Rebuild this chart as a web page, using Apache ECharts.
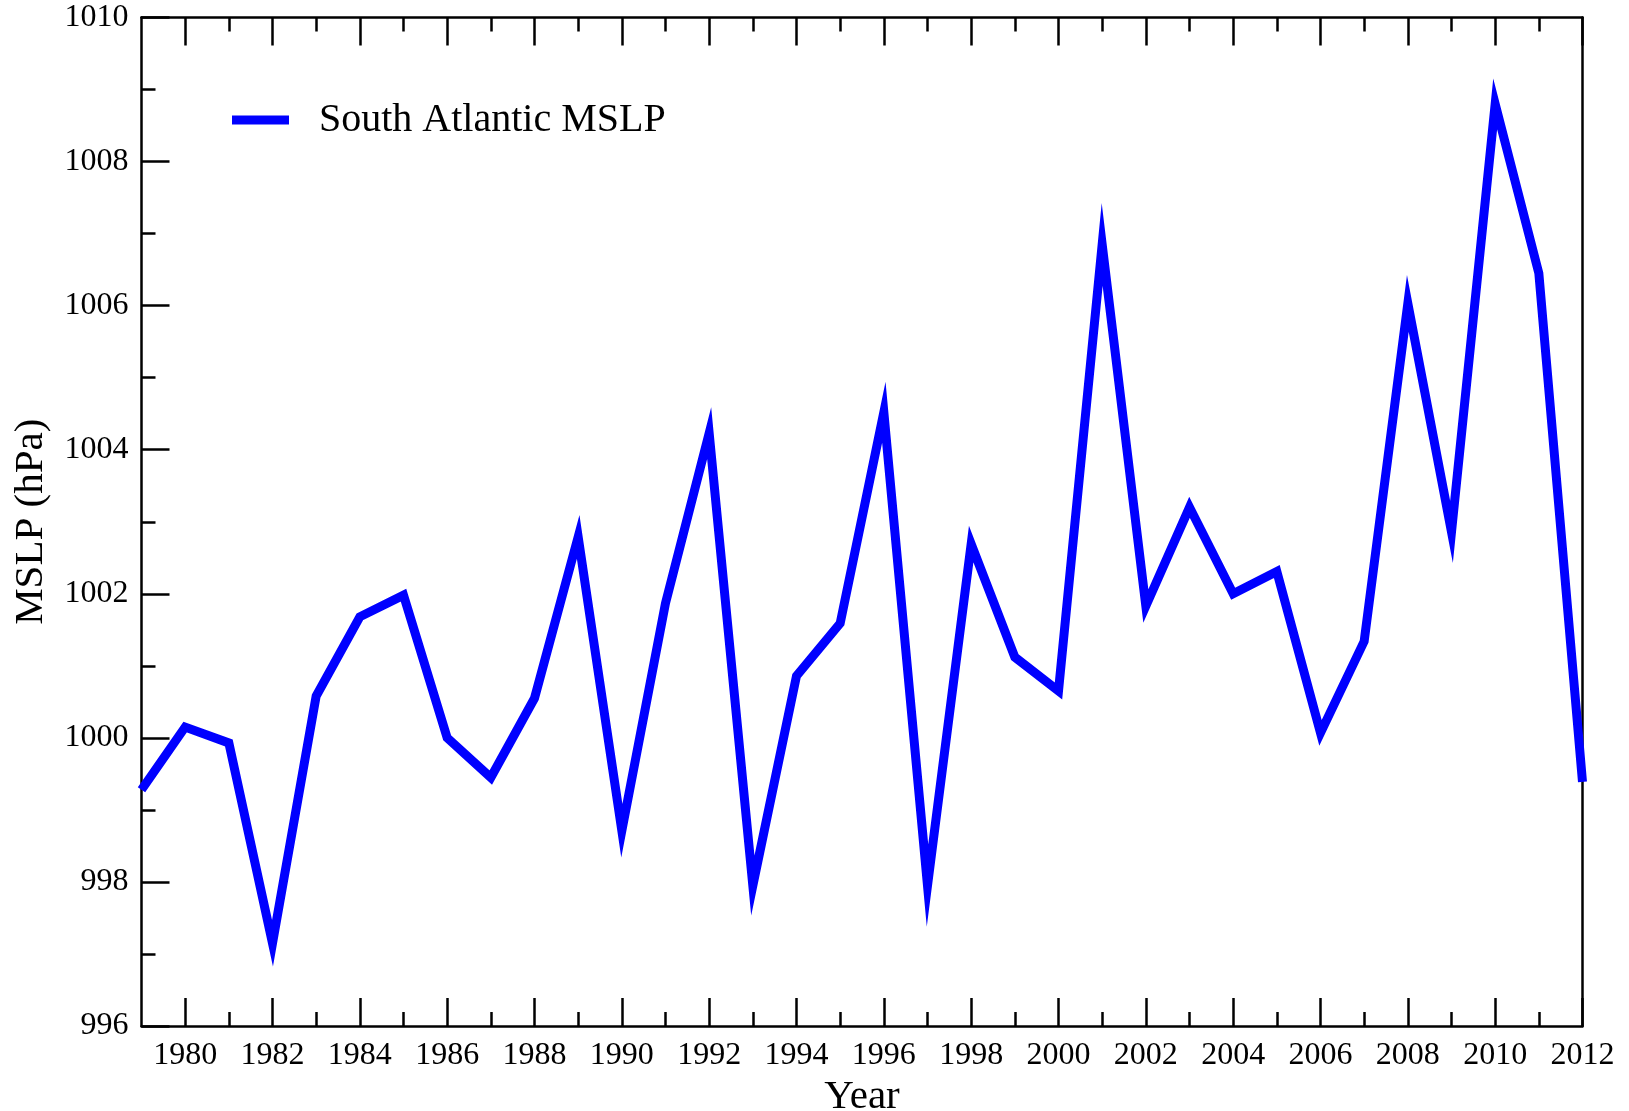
<!DOCTYPE html>
<html>
<head>
<meta charset="utf-8">
<title>South Atlantic MSLP</title>
<script src="https://cdn.jsdelivr.net/npm/echarts@6/dist/echarts.min.js"></script>
<style>
  html, body { margin: 0; padding: 0; background: #ffffff; }
  #chart { width: 1629px; height: 1111px; }
</style>
</head>
<body>
<div id="chart"></div>
<script>
// Annual mean sea-level pressure over the South Atlantic, 1979-2012 (hPa)
const years = [
  1979, 1980, 1981, 1982, 1983, 1984, 1985, 1986, 1987, 1988,
  1989, 1990, 1991, 1992, 1993, 1994, 1995, 1996, 1997, 1998,
  1999, 2000, 2001, 2002, 2003, 2004, 2005, 2006, 2007, 2008,
  2009, 2010, 2011, 2012
];
const mslp = [
  999.28, 1000.15, 999.93, 997.15, 1000.58, 1001.68, 1001.98, 1000.00, 999.45, 1000.55,
  1002.79, 998.71, 1001.87, 1004.23, 997.95, 1000.86, 1001.59, 1004.52, 997.95, 1002.69,
  1001.12, 1000.65, 1006.85, 1001.83, 1003.20, 1002.00, 1002.31, 1000.07, 1001.34, 1006.03,
  1002.86, 1008.80, 1006.45, 999.39
];
// Labelled (long) ticks on the year axis, and the unlabelled short ticks between them
const majorYearTicks = [1980, 1982, 1984, 1986, 1988, 1990, 1992, 1994, 1996, 1998,
                        2000, 2002, 2004, 2006, 2008, 2010, 2012];
const minorYearTicks = [1981, 1983, 1985, 1987, 1989, 1991, 1993, 1995, 1997, 1999,
                        2001, 2003, 2005, 2007, 2009, 2011];
const seriesName = 'South Atlantic MSLP';

const FONT = '"Liberation Serif", "Times New Roman", serif';
const INK = '#000000';
const AXIS_W = 2.5;

const points = years.map((y, i) => [y, mslp[i]]);
const plainNumber = v => String(Math.round(v));

function yearAxis(position, ticks, len, opts) {
  return Object.assign({
    type: 'value',
    position: position,
    min: 1979,
    max: 2012,
    axisLine: { show: false },
    axisTick: {
      show: true, inside: true, length: len, customValues: ticks,
      lineStyle: { color: INK, width: AXIS_W }
    },
    axisLabel: { show: false },
    splitLine: { show: false }
  }, opts || {});
}

const chart = echarts.init(document.getElementById('chart'), null, { renderer: 'canvas' });

chart.setOption({
  backgroundColor: '#ffffff',
  animation: false,
  grid: {
    left: 141.5, right: 46.5, top: 17.5, bottom: 85,
    containLabel: false, outerBoundsMode: 'none'
  },
  legend: {
    show: true,
    left: 232,
    top: 100,
    padding: 0,
    icon: 'rect',
    itemWidth: 57,
    itemHeight: 9,
    itemStyle: { color: '#0000ff' },
    textStyle: {
      fontFamily: FONT, fontSize: 40, color: INK,
      padding: [0, 0, 0, 25]
    },
    data: [seriesName]
  },
  xAxis: [
    yearAxis('bottom', majorYearTicks, 28, {
      axisLine: { show: true, onZero: false, lineStyle: { color: INK, width: AXIS_W } },
      axisLabel: {
        show: true, customValues: majorYearTicks, margin: 14,
        formatter: plainNumber,
        fontFamily: FONT, fontSize: 32, color: INK
      },
      name: 'Year',
      nameLocation: 'middle',
      nameGap: 47,
      nameTextStyle: { fontFamily: FONT, fontSize: 41, color: INK }
    }),
    yearAxis('bottom', minorYearTicks, 14),
    yearAxis('top', majorYearTicks, 28, {
      axisLine: { show: true, onZero: false, lineStyle: { color: INK, width: AXIS_W } }
    }),
    yearAxis('top', minorYearTicks, 14)
  ],
  yAxis: [
    {
      type: 'value',
      position: 'left',
      min: 996,
      max: 1010,
      interval: 2,
      axisLine: { show: true, onZero: false, lineStyle: { color: INK, width: AXIS_W } },
      axisTick: { show: true, inside: true, length: 28, lineStyle: { color: INK, width: AXIS_W } },
      minorTick: { show: true, splitNumber: 2, length: 14, lineStyle: { color: INK, width: AXIS_W } },
      axisLabel: {
        show: true, margin: 13, formatter: plainNumber,
        fontFamily: FONT, fontSize: 32, color: INK
      },
      splitLine: { show: false },
      minorSplitLine: { show: false },
      name: 'MSLP (hPa)',
      nameLocation: 'middle',
      nameGap: 90,
      nameTextStyle: { fontFamily: FONT, fontSize: 41, color: INK }
    },
    {
      type: 'value',
      position: 'right',
      min: 996,
      max: 1010,
      interval: 2,
      axisLine: { show: true, onZero: false, lineStyle: { color: INK, width: AXIS_W } },
      axisTick: { show: false },
      axisLabel: { show: false },
      splitLine: { show: false }
    }
  ],
  series: [
    {
      name: seriesName,
      type: 'line',
      xAxisIndex: 0,
      yAxisIndex: 0,
      data: points,
      symbol: 'none',
      showSymbol: false,
      color: '#0000ff',
      lineStyle: { color: '#0000ff', width: 9, join: 'miter', miterLimit: 60, cap: 'butt' },
      z: 1
    }
  ]
});
</script>
</body>
</html>
